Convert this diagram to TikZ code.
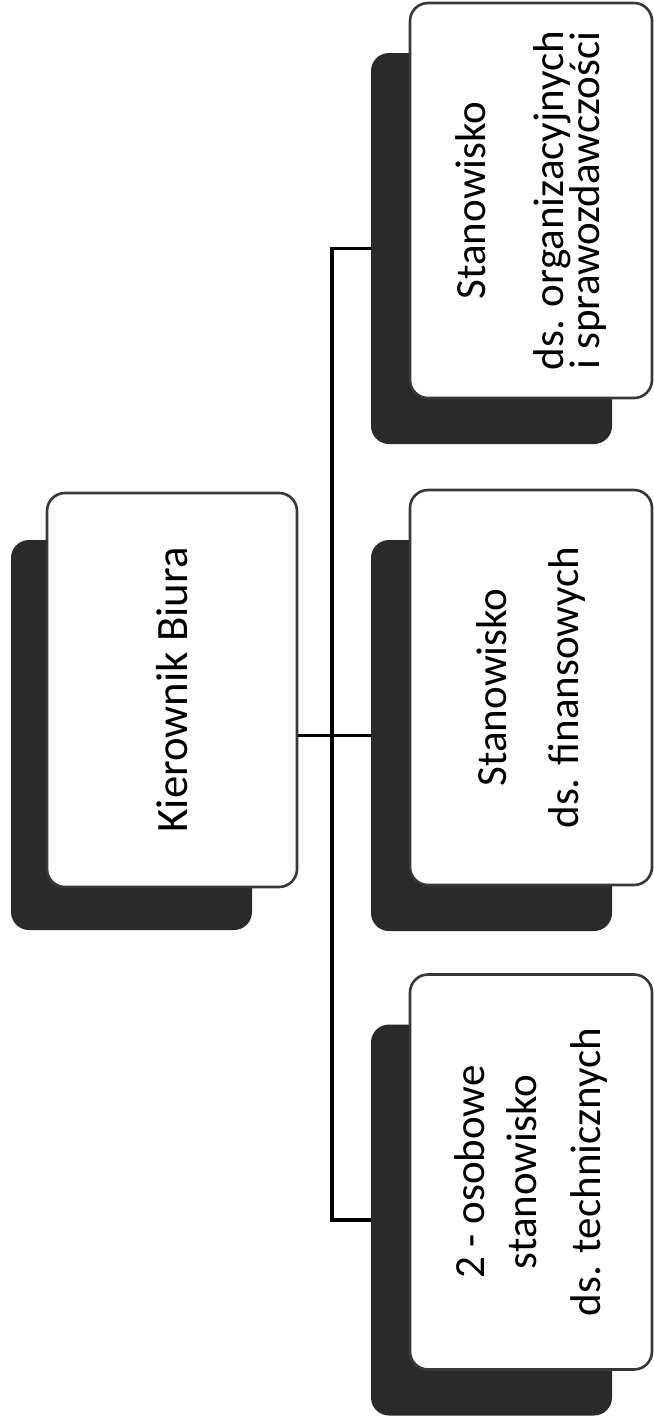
\documentclass[tikz,border=0pt]{standalone}
\usepackage{fontspec}
\setmainfont{Carlito}
\usetikzlibrary{backgrounds}
\tikzset{>=latex}
\definecolor{myshadow}{HTML}{2A2A2A}
\definecolor{myedge}{HTML}{383838}

\begin{document}
\begin{tikzpicture}[line cap=round, line join=round,
                    postbox/.style={draw=myedge, line width=1.5pt, fill=white,
                                    rounded corners=0.36cm, rotate=90, inner sep=0pt,
                                    minimum width=7.9cm, minimum height=4.84cm, align=center,
                                    font={\fontsize{24.5}{20}\selectfont\lineskiplimit=-50pt\relax}},
                    shadowbox/.style={fill=myshadow, rounded corners=0.36cm, rotate=90,
                                      inner sep=0pt, minimum width=7.82cm, minimum height=4.82cm},
                    conn/.style={black, line width=2.1pt, line cap=butt, line join=miter}]
  \useasboundingbox (0,0) rectangle (13.08,-28.4);
  \def\shx{0.79}
  \def\shy{0.96}

  % SHADOWS (rotated: north faces left)
  \node[shadowbox, minimum width=7.8cm]  (bossS) at (2.63,-14.70) {};
  \node[shadowbox] (orgS)  at (9.83,-4.97)  {};
  \node[shadowbox] (finS)  at (9.83,-14.71) {};
  \node[shadowbox] (techS) at (9.83,-24.40) {};

  % BOXES
  \node[postbox, minimum width=7.88cm, minimum height=5cm, font=\fontsize{25.5}{20}\selectfont] (boss)
    at ([shift={(0.81,0.90)}]bossS.center) {Kierownik Biura};
  \node[postbox] (org) at ([shift={(\shx,\shy)}]orgS.center)
    {Stanowisko\\[24.4pt] ds. organizacyjnych\\[0.5pt] i sprawozdawczości};
  \node[postbox] (fin) at ([shift={(\shx,\shy)}]finS.center)
    {Stanowisko\\[21pt] ds. finansowych};
  \node[postbox] (tech) at ([shift={(\shx,\shy)}]techS.center)
    {2 - osobowe\\[9.6pt] stanowisko\\[15.9pt] ds. technicznych};

  % CONNECTORS
  \coordinate (spine) at (6.64,0);
  \begin{pgfonlayer}{background}
    \draw[conn] (orgS.north) -- (orgS.north -| spine) -- (techS.north -| spine) -- (techS.north);
    \draw[conn] (finS.north -| boss.south) -- (finS.north);
  \end{pgfonlayer}
\end{tikzpicture}
\end{document}
